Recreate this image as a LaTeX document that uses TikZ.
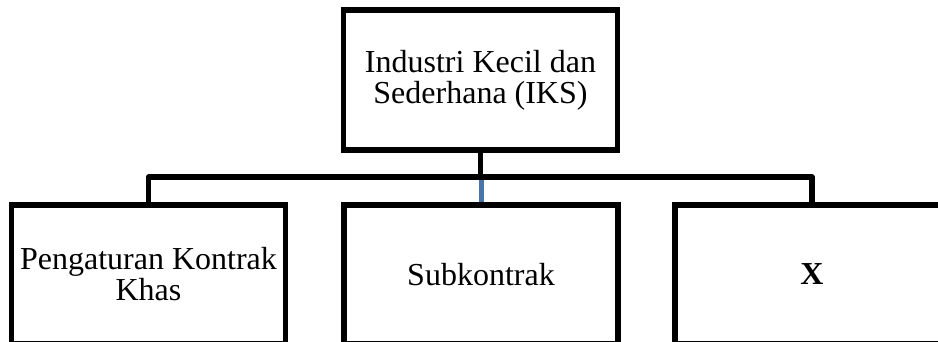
\documentclass[tikz,border=0pt]{standalone}
\usepackage{fontspec}
\setmainfont{Liberation Serif}
\definecolor{linkblue}{HTML}{4A74A8}
\tikzset{
  box/.style={draw=black, line width=5.5pt, fill=white, rectangle, align=center,
    minimum width=274pt, minimum height=140pt, inner sep=2pt,
    font=\fontsize{32}{31}\selectfont},
  conn/.style={draw=black, line width=5.5pt, line join=round},
}
\begin{document}
\begin{tikzpicture}[x=1pt,y=-1pt]
\useasboundingbox (0,0) rectangle (938,342);
\clip (0,0) rectangle (938,342);
\node[box] (top) at (480.5,80) {Industri Kecil dan\\Sederhana (IKS)};
\node[box, minimum height=139pt] (left) at (148.5,274.5) {Pengaturan Kontrak\\Khas};
\node[box, minimum height=139pt] (mid) at (481,274.5) {Subkontrak};
\node[box, minimum height=139pt] (right) at (812,274.5) {\textbf{X}};
\coordinate (bus) at (481,177);
\draw[conn] (top.south) -- (top.south |- bus);
\draw[conn] (left.north) -- (left.north |- bus) -- (right.north |- bus) -- (right.north);
\draw[draw=linkblue, line width=5pt] (mid.north) -- ([yshift=-2.75pt]mid.north |- bus);
\end{tikzpicture}
\end{document}
